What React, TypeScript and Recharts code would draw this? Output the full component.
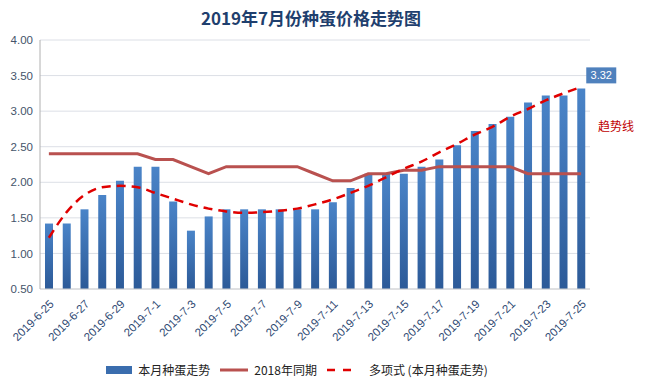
import { ComposedChart, Bar, Line, CartesianGrid, XAxis, YAxis, Legend, LabelList } from 'recharts';

const dates: string[] = [
    '2019-6-25', '2019-6-26', '2019-6-27', '2019-6-28', '2019-6-29', '2019-6-30',
    '2019-7-1', '2019-7-2', '2019-7-3', '2019-7-4', '2019-7-5', '2019-7-6', '2019-7-7',
    '2019-7-8', '2019-7-9', '2019-7-10', '2019-7-11', '2019-7-12', '2019-7-13', '2019-7-14',
    '2019-7-15', '2019-7-16', '2019-7-17', '2019-7-18', '2019-7-19', '2019-7-20', '2019-7-21',
    '2019-7-22', '2019-7-23', '2019-7-24', '2019-7-25',
];

const thisMonth: number[] = [
    1.42, 1.42, 1.62, 1.82, 2.02, 2.22, 2.22, 1.73, 1.32, 1.52, 1.62, 1.62, 1.62, 1.62, 1.62, 1.62,
    1.72, 1.92, 2.12, 2.12, 2.12, 2.22, 2.32, 2.52, 2.72, 2.82, 2.92, 3.12, 3.22, 3.22, 3.32,
];

const lastYear: number[] = [
    2.4, 2.4, 2.4, 2.4, 2.4, 2.4, 2.32, 2.32, 2.22, 2.12, 2.22, 2.22, 2.22, 2.22, 2.22, 2.12,
    2.02, 2.02, 2.12, 2.12, 2.17, 2.17, 2.22, 2.22, 2.22, 2.22, 2.22, 2.12, 2.12, 2.12, 2.12,
];

// polynomial trend
const trend: number[] = [
    1.22, 1.58, 1.82, 1.93, 1.95, 1.93, 1.85, 1.77, 1.69, 1.63, 1.59, 1.57, 1.58, 1.6, 1.63, 1.69,
    1.76, 1.85, 1.95, 2.07, 2.19, 2.29, 2.42, 2.54, 2.67, 2.78, 2.92, 3.03, 3.15, 3.25, 3.34,
];

const yTicks: number[] = [0.5, 1, 1.5, 2, 2.5, 3, 3.5, 4];

const data = dates.map((d, i) => ({
    date: d,
    cur: thisMonth[i],
    last: lastYear[i],
    trend: trend[i],
}));

const cjk = '"Noto Sans CJK SC", "Liberation Sans", sans-serif';

const LastLabel = (props: any) => {
    const { x, y, width, value, index } = props;
    if (index !== data.length - 1) return null;
    const bx = x + width + 1;
    const by = y - 21;
    return (
        <g>
            <rect x={bx} y={by} width={30} height={16} fill="#4f81bd" />
            <text x={bx + 15} y={by + 12} textAnchor="middle" fill="#fff" fontSize={11}
                fontFamily='"Liberation Sans", sans-serif'>{Number(value).toFixed(2)}</text>
        </g>
    );
};

const LegendBox = () => (
    <div style={{ display: 'flex', alignItems: 'center', justifyContent: 'center', fontFamily: cjk, fontSize: 12, color: '#222', paddingLeft: 4 }}>
        <span style={{ display: 'inline-block', width: 26, height: 8, background: '#3a6dae', marginRight: 6 }} />
        <span style={{ marginRight: 10 }}>本月种蛋走势</span>
        <svg width={30} height={10} style={{ marginRight: 4 }}>
            <line x1={0} y1={5} x2={28} y2={5} stroke="#b9514f" strokeWidth={3} />
        </svg>
        <span style={{ marginRight: 10 }}>2018年同期</span>
        <svg width={30} height={10} style={{ marginRight: 12 }}>
            <line x1={0} y1={5} x2={28} y2={5} stroke="#e00000" strokeWidth={2.5} strokeDasharray="8 8" />
        </svg>
        <span>多项式 (本月种蛋走势)</span>
    </div>
);

const App: React.FC = () => (
    <div style={{ position: 'absolute', left: 0, top: 0, width: 645, height: 390, background: '#fff' }}>
        <div style={{ position: 'absolute', left: 0, top: 5, width: 622, textAlign: 'center', fontFamily: cjk, fontWeight: 'bold', fontSize: 17, color: '#1f3f6e' }}>
            2019年7月份种蛋价格走势图
        </div>
        <div style={{ position: 'absolute', left: 598, top: 117, fontFamily: cjk, fontSize: 12, color: '#c00000' }}>
            趋势线
        </div>
        <ComposedChart width={645} height={390} data={data} margin={{ top: 40, right: 55, bottom: 0, left: 0 }}>
            <defs>
                <linearGradient id="barGrad" x1="0" y1="0" x2="0" y2="1">
                    <stop offset="0%" stopColor="#4a84c8" />
                    <stop offset="100%" stopColor="#2c5a98" />
                </linearGradient>
            </defs>
            <CartesianGrid vertical={false} stroke="#dcdfe6" />
            <XAxis dataKey="date" interval={1} angle={-45} textAnchor="end" height={84}
                tickLine={false} axisLine={{ stroke: '#d0d0d0' }} tickMargin={4}
                tick={{ fontSize: 11.5, fill: '#2f4a73', fontFamily: '"Liberation Sans", sans-serif' }} />
            <YAxis domain={[0.5, 4]} ticks={yTicks} width={40} tickLine={false} tickSize={0} tickMargin={7}
                axisLine={{ stroke: '#b0b0b0' }} tickFormatter={(v: number) => v.toFixed(2)}
                tick={{ fontSize: 11.5, fill: '#44546a', fontFamily: '"Liberation Sans", sans-serif' }} />
            <Legend verticalAlign="bottom" content={<LegendBox />} wrapperStyle={{ bottom: 12 }} />
            <Bar dataKey="cur" name="本月种蛋走势" fill="url(#barGrad)" barSize={8} isAnimationActive={false}>
                <LabelList dataKey="cur" content={<LastLabel />} />
            </Bar>
            <Line dataKey="last" name="2018年同期" type="linear" stroke="#b9514f" strokeWidth={3}
                dot={false} isAnimationActive={false} />
            <Line dataKey="trend" name="多项式 (本月种蛋走势)" type="monotone" stroke="#e00000" strokeWidth={2.5}
                strokeDasharray="9 6" dot={false} isAnimationActive={false} />
        </ComposedChart>
    </div>
);

export default App;
